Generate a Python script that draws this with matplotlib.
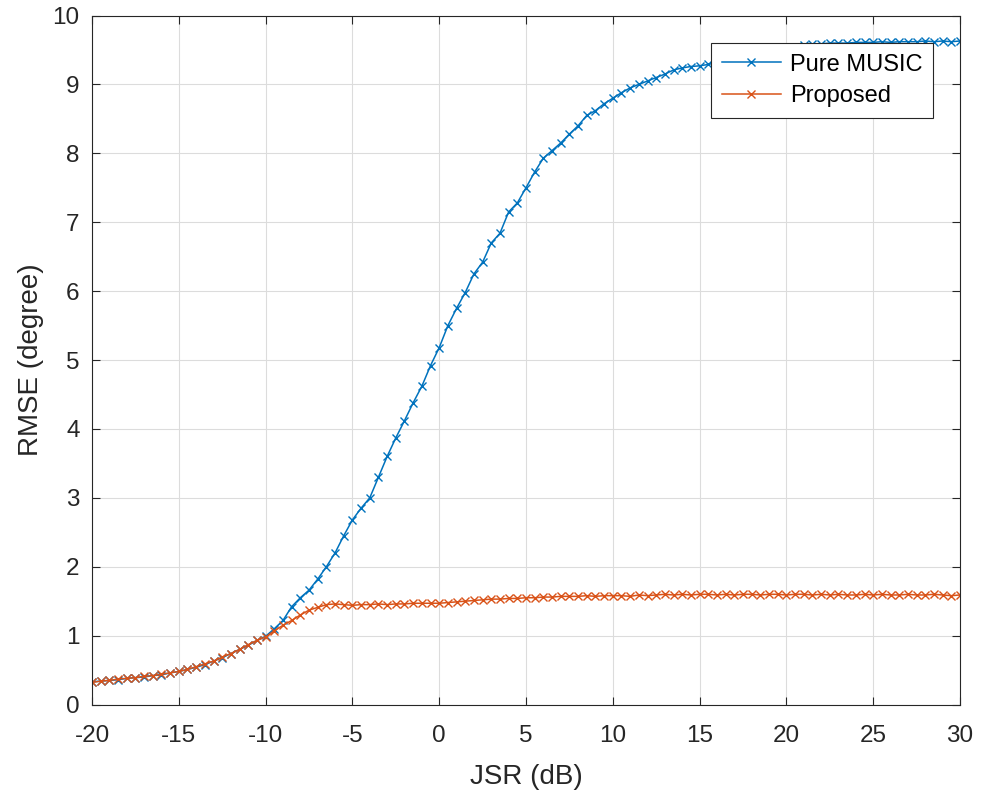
import numpy as np
import matplotlib
matplotlib.use("Agg")
import matplotlib.pyplot as plt

jsr_db = np.arange(-20, 30.01, 0.5)

pure_music = [
    0.33, 0.34, 0.35, 0.36, 0.38, 0.39, 0.40, 0.42, 0.43, 0.46,
    0.48, 0.51, 0.54, 0.58, 0.63, 0.68, 0.74, 0.80, 0.86, 0.93,
    0.99, 1.10, 1.22, 1.42, 1.55, 1.66, 1.82, 2.00, 2.20, 2.45,
    2.68, 2.85, 3.00, 3.30, 3.60, 3.87, 4.12, 4.38, 4.62, 4.92,
    5.18, 5.50, 5.75, 5.98, 6.25, 6.42, 6.70, 6.84, 7.15, 7.28,
    7.50, 7.73, 7.93, 8.04, 8.15, 8.28, 8.40, 8.55, 8.62, 8.72,
    8.80, 8.88, 8.95, 9.00, 9.05, 9.10, 9.15, 9.21, 9.24, 9.26,
    9.27, 9.29, 9.32, 9.35, 9.38, 9.41, 9.44, 9.47, 9.49, 9.52,
    9.54, 9.55, 9.57, 9.58, 9.59, 9.60, 9.60, 9.60, 9.61, 9.61,
    9.61, 9.62, 9.61, 9.62, 9.62, 9.62, 9.63, 9.62, 9.63, 9.62,
    9.63,
]

proposed = [
    0.32, 0.34, 0.35, 0.37, 0.38, 0.39, 0.41, 0.42, 0.44, 0.46,
    0.48, 0.51, 0.55, 0.59, 0.63, 0.69, 0.74, 0.80, 0.87, 0.93,
    0.98, 1.07, 1.15, 1.22, 1.30, 1.37, 1.41, 1.45, 1.46, 1.45,
    1.44, 1.45, 1.45, 1.46, 1.45, 1.46, 1.46, 1.47, 1.47, 1.47,
    1.47, 1.48, 1.49, 1.50, 1.51, 1.52, 1.53, 1.53, 1.54, 1.54,
    1.55, 1.55, 1.56, 1.56, 1.57, 1.57, 1.57, 1.58, 1.57, 1.58,
    1.58, 1.58, 1.57, 1.59, 1.58, 1.59, 1.60, 1.59, 1.60, 1.59,
    1.60, 1.60, 1.59, 1.60, 1.59, 1.60, 1.60, 1.59, 1.60, 1.60,
    1.59, 1.60, 1.60, 1.59, 1.60, 1.59, 1.60, 1.59, 1.59, 1.60,
    1.59, 1.60, 1.59, 1.59, 1.60, 1.59, 1.59, 1.60, 1.59, 1.58,
    1.59,
]

series_labels = ["Pure MUSIC", "Proposed"]
x_ticks = list(range(-20, 31, 5))
y_ticks = list(range(0, 11, 1))

plt.rcParams['font.family'] = ['Liberation Sans', 'DejaVu Sans']

fig = plt.figure(figsize=(9.81, 7.96), dpi=100)
ax = fig.add_axes([0.0938, 0.1149, 0.8848, 0.8656])

ax.plot(jsr_db, pure_music, color='#0072BD', marker='x', markersize=6,
        linewidth=1.1, markeredgewidth=1.0, label=series_labels[0])
ax.plot(jsr_db, proposed, color='#D95319', marker='x', markersize=6,
        linewidth=1.1, markeredgewidth=1.0, label=series_labels[1])

ax.set_xlim(-20, 30)
ax.set_ylim(0, 10)
ax.set_xticks(x_ticks)
ax.set_yticks(y_ticks)
ax.set_xticklabels([str(t) for t in x_ticks])
ax.grid(True, color='#dcdcdc', linewidth=0.8)
ax.set_axisbelow(True)
ax.tick_params(direction='in', top=True, right=True, length=6,
               labelsize=17.5, colors='#262626', width=0.8)
ax.tick_params(axis='x', pad=15)
ax.tick_params(axis='y', pad=9)
for s in ax.spines.values():
    s.set_color('#262626')
    s.set_linewidth(0.8)

ax.set_xlabel('JSR (dB)', fontsize=20, color='#262626', labelpad=12)
ax.set_ylabel('RMSE (degree)', fontsize=20, color='#262626', labelpad=6)

leg = ax.legend(loc='upper right', bbox_to_anchor=(0.969, 0.960), borderaxespad=0,
                fontsize=17, frameon=True, fancybox=False, edgecolor='#262626',
                handlelength=2.5, borderpad=0.45, labelspacing=0.4,
                handletextpad=0.4, framealpha=1.0)
leg.get_frame().set_linewidth(0.8)

fig.savefig('out.png', dpi=100)
